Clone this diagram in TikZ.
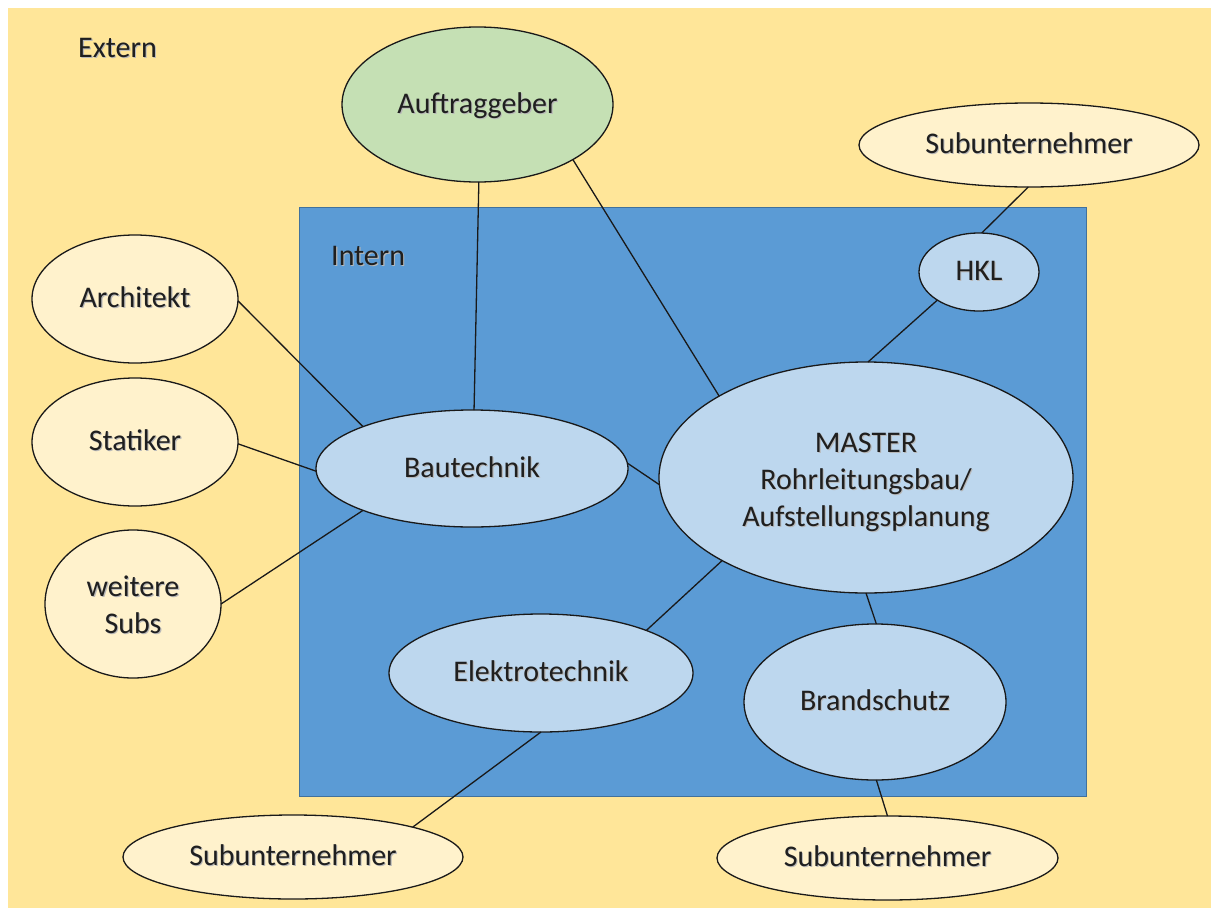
\documentclass[tikz,border=0pt]{standalone}
\usepackage{fontspec}
\setmainfont{Carlito}
\usetikzlibrary{shapes.geometric}

\definecolor{externbg}{HTML}{FFE699}
\definecolor{internbg}{HTML}{5B9BD5}
\definecolor{internline}{HTML}{41719C}
\definecolor{extfill}{HTML}{FFF2CC}
\definecolor{intfill}{HTML}{BDD7EE}
\definecolor{clientfill}{HTML}{C5E0B4}
\definecolor{txt}{HTML}{1F1F1F}

% text with a soft drop shadow
\newcommand{\shtxt}[1]{\leavevmode\rlap{\kern1.1pt\raisebox{-1.1pt}{\textcolor{black!28}{#1}}}\textcolor{txt}{#1}}
\newcommand{\twolines}[2]{\begin{tabular}{@{}c@{}}#1\\#2\end{tabular}}
\newcommand{\threelines}[3]{\begin{tabular}{@{}c@{}}#1\\#2\\#3\end{tabular}}

\begin{document}
\begin{tikzpicture}[x=1pt,y=-1pt,
  every node/.style={font=\fontsize{30}{37.3}\selectfont},
  blob/.style={ellipse, draw=black!90, line width=1.3pt, inner sep=0pt, outer sep=0pt,
    text height=24pt, text depth=6.6pt},
  extblob/.style={blob, fill=extfill},
  intblob/.style={blob, fill=intfill},
  twoline/.style={text height=25pt, text depth=5.2pt},
  threeline/.style={text height=26pt, text depth=4.4pt},
  link/.style={draw=black!90, line width=1.3pt},
  region/.style={font=\fontsize{30}{37}\selectfont, anchor=base west, inner sep=0pt}
]
\useasboundingbox (0,0) rectangle (1211,908);

% outer (external) area
\fill[externbg] (8,8) rectangle (1211,908);
\node[region] (extern) at (78,57) {\shtxt{Extern}};

% inner (internal) area
\draw[fill=internbg, draw=internline, line width=1pt] (299,207) rectangle (1086,796);
\node[region] (intern) at (331,265) {\shtxt{Intern}};

% nodes
\node[blob, fill=clientfill, minimum width=271pt, minimum height=155pt] (auf) at (477.5,104.5) {\shtxt{Auftraggeber}};
\node[extblob, minimum width=340pt, minimum height=84pt] (subtr) at (1029,145) {\shtxt{Subunternehmer}};
\node[intblob, minimum width=120pt, minimum height=78pt] (hkl) at (979,272) {\shtxt{HKL}};
\node[extblob, minimum width=206pt, minimum height=128pt] (arch) at (135,299) {\shtxt{Architekt}};
\node[extblob, minimum width=206pt, minimum height=128pt] (stat) at (135,442) {\shtxt{Statiker}};
\node[extblob, twoline, minimum width=176pt, minimum height=148pt] (weit) at (133,604) {\shtxt{\twolines{weitere}{Subs}}};
\node[intblob, minimum width=312pt, minimum height=117pt] (baut) at (472,468.5) {\shtxt{Bautechnik}};
\node[intblob, threeline, minimum width=414pt, minimum height=231pt] (master) at (866,477.5)
  {\shtxt{\threelines{MASTER}{Rohrleitungsbau/}{Aufstellungsplanung}}};
\node[intblob, minimum width=304pt, minimum height=118pt] (elek) at (541,673) {\shtxt{Elektrotechnik}};
\node[intblob, minimum width=262pt, minimum height=156pt] (brand) at (875,702) {\shtxt{Brandschutz}};
\node[extblob, minimum width=340pt, minimum height=84pt] (subbl) at (293,857) {\shtxt{Subunternehmer}};
\node[extblob, minimum width=341pt, minimum height=84pt] (subbr) at (887.5,858) {\shtxt{Subunternehmer}};

% connectors
\path[link] (auf.-89) -- (baut.88);
\path[link] (auf.-30) -- (master.151.5);
\path[link] (subtr.-91) -- (hkl.86);
\path[link] (hkl.-146) -- (master.89.5);
\path[link] (arch.-1) -- (baut.159);
\path[link] (stat.-1) -- (baut.181);
\path[link] (weit.0) -- (baut.201);
\path[link] (baut.2) -- (master.182);
\path[link] (master.210.5) -- (elek.22.5);
\path[link] (master.-90) -- (brand.89);
\path[link] (elek.-90) -- (subbl.14);
\path[link] (brand.-89) -- (subbr.90);
\end{tikzpicture}
\end{document}
